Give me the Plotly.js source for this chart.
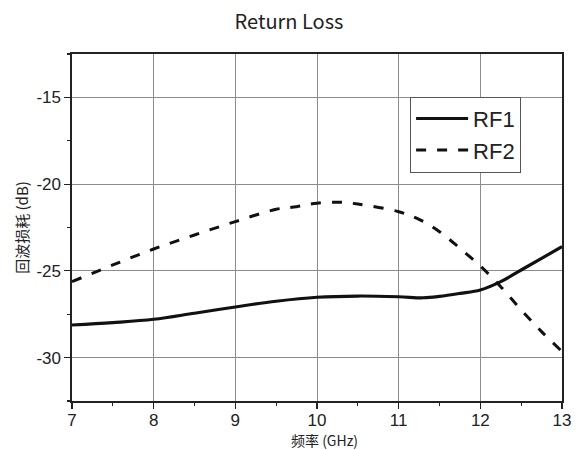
<!DOCTYPE html>
<html>
<head>
<meta charset="utf-8">
<script src="https://cdn.plot.ly/plotly-3.0.1.min.js"></script>
<style>html,body{margin:0;padding:0;background:#fff;}#chart{width:578px;height:450px;}</style>
</head>
<body>
<div id="chart"></div>
<script>
const freqRF1 = [7, 7.5, 8, 8.5, 9, 9.5, 10, 10.5, 11, 11.3, 11.5, 11.75, 12, 12.25, 12.5, 12.75, 13];
const rf1 = [-28.12, -27.98, -27.79, -27.44, -27.08, -26.75, -26.52, -26.45, -26.49, -26.55, -26.47, -26.3, -26.1, -25.62, -24.95, -24.28, -23.6];
const freqRF2 = [7, 7.5, 8, 8.5, 9, 9.5, 9.75, 10, 10.3, 10.5, 11, 11.25, 11.5, 11.75, 12, 12.25, 12.5, 12.75, 13];
const rf2 = [-25.62, -24.66, -23.74, -22.93, -22.16, -21.45, -21.3, -21.1, -21.05, -21.15, -21.59, -22.03, -22.74, -23.7, -24.72, -25.91, -27.25, -28.5, -29.65];
const xTicks = [7, 8, 9, 10, 11, 12, 13];
const yTicks = [-30, -25, -20, -15];
const seriesNames = ["RF1", "RF2"];
const xTitle = "频率 (GHz)";
const yTitle = "回波损耗 (dB)";

const tickFont = {family: "Liberation Sans, Arial, sans-serif", size: 17, color: "#222"};
const traces = [
  {x: freqRF1, y: rf1, name: seriesNames[0], mode: "lines", line: {color: "#111", width: 3.2, shape: "spline"}},
  {x: freqRF2, y: rf2, name: seriesNames[1], mode: "lines", line: {color: "#111", width: 3, dash: "10px,11px", shape: "spline"}}
];
const layout = {
  width: 578, height: 450,
  margin: {l: 71.5, r: 16.3, t: 54.3, b: 49},
  paper_bgcolor: "#fff", plot_bgcolor: "#fff",
  title: {text: "Return Loss", x: 0.5, xanchor: "center", y: 0.951, yanchor: "middle",
          font: {family: "Noto Sans CJK SC, Noto Sans, sans-serif", size: 20, color: "#222"}},
  xaxis: {range: [7, 13], tickvals: xTicks, ticktext: xTicks.map(String), ticks: "outside", ticklen: 6, tickwidth: 1.2, tickcolor: "#222",
          ticklabelstandoff: -3,
          minor: {dtick: 0.5, tick0: 7, ticks: "outside", ticklen: 3, tickcolor: "#222", showgrid: false},
          showline: true, linecolor: "#222", linewidth: 1.6, mirror: true,
          showgrid: true, gridcolor: "#8c8c8c", gridwidth: 1, zeroline: false,
          tickfont: tickFont},
  yaxis: {range: [-32.5, -12.5], tickvals: yTicks, ticktext: yTicks.map(String), ticks: "outside", ticklen: 6, tickwidth: 1.2, tickcolor: "#222",
          minor: {dtick: 2.5, tick0: -30, ticks: "outside", ticklen: 3, tickcolor: "#222", showgrid: false},
          showline: true, linecolor: "#222", linewidth: 1.6, mirror: true,
          showgrid: true, gridcolor: "#8c8c8c", gridwidth: 1, zeroline: false,
          tickfont: tickFont,
          title: {text: yTitle, standoff: 4, font: {family: "Noto Sans CJK SC, sans-serif", size: 15, color: "#222"}}},
  xaxis2: {overlaying: "x", side: "top", range: [7, 13], tickvals: xTicks, ticks: "inside", ticklen: 5, tickcolor: "#222",
           minor: {dtick: 0.5, tick0: 7, ticks: "inside", ticklen: 3, tickcolor: "#222"},
           showticklabels: false, showgrid: false, zeroline: false, showline: false},
  yaxis2: {overlaying: "y", side: "right", range: [-32.5, -12.5], tickvals: yTicks, ticks: "inside", ticklen: 5, tickcolor: "#222",
           minor: {dtick: 2.5, tick0: -30, ticks: "inside", ticklen: 3, tickcolor: "#222"},
           showticklabels: false, showgrid: false, zeroline: false, showline: false},
  annotations: [
    {text: xTitle, xref: "paper", yref: "paper", x: 0.515, y: -0.113, xanchor: "center", yanchor: "middle", showarrow: false, borderpad: 0,
     font: {family: "Noto Sans CJK SC, sans-serif", size: 14, color: "#222"}}
  ],
  showlegend: true,
  legend: {x: 0.69, y: 0.877, xanchor: "left", yanchor: "top", bgcolor: "#fff", bordercolor: "#555", borderwidth: 1,
           font: {family: "Liberation Sans, Arial, sans-serif", size: 22, color: "#222"}, itemwidth: 52, tracegroupgap: 0}
};
Plotly.newPlot("chart", traces, layout, {staticPlot: true, displayModeBar: false});
</script>
</body>
</html>
